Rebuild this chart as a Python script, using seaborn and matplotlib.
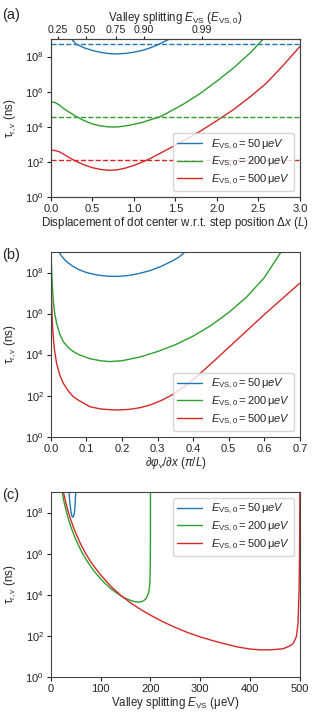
import numpy as np
import matplotlib
matplotlib.use('Agg')
import matplotlib.pyplot as plt
import seaborn as sns

# curve values are log10(tau / ns)

# (a) tau vs displacement of dot centre (units of L)
a_blue_x = [0.25, 0.3, 0.4, 0.5, 0.6, 0.7, 0.8, 0.9, 1.0, 1.1, 1.2, 1.3, 1.43]
a_blue_y = [9.0, 8.72, 8.5, 8.35, 8.24, 8.17, 8.15, 8.18, 8.25, 8.35, 8.5, 8.7, 9.0]
a_green_x = [0.0, 0.05, 0.1, 0.15, 0.2, 0.3, 0.4, 0.5, 0.6, 0.7, 0.8, 0.9, 1.0, 1.1, 1.2,
             1.33, 1.4, 1.6, 1.8, 2.0, 2.2, 2.4, 2.56]
a_green_y = [5.43, 5.38, 5.25, 5.05, 4.9, 4.6, 4.35, 4.16, 4.05, 3.99, 3.99, 4.05, 4.14, 4.25, 4.4,
             4.6, 4.78, 5.3, 5.9, 6.6, 7.35, 8.2, 9.0]
a_red_x = [0.0, 0.05, 0.1, 0.15, 0.2, 0.25, 0.3, 0.4, 0.5, 0.6, 0.7, 0.8, 0.9, 1.0, 1.1, 1.2,
           1.4, 1.6, 1.8, 2.0, 2.2, 2.4, 2.6, 2.8, 3.0]
a_red_y = [2.67, 2.65, 2.58, 2.45, 2.3, 2.17, 2.04, 1.83, 1.67, 1.57, 1.52, 1.55, 1.65, 1.8, 1.98, 2.2,
           2.7, 3.2, 3.75, 4.35, 4.98, 5.7, 6.5, 7.5, 8.57]
a_dashed_y = [8.73, 4.58, 2.12]   # blue, green, red reference levels
top_tick_pos = [0.088, 0.42, 0.78, 1.125, 1.815]
top_tick_labels = ['0.25', '0.50', '0.75', '0.90', '0.99']

# (b) tau vs valley phase gradient (pi/L)
b_blue_x = [0.023, 0.03, 0.04, 0.05, 0.063, 0.08, 0.1, 0.13, 0.16, 0.19, 0.22, 0.25, 0.28,
            0.31, 0.34, 0.36, 0.377]
b_blue_y = [9.0, 8.8, 8.6, 8.45, 8.29, 8.13, 8.0, 7.88, 7.82, 7.81, 7.86, 7.96, 8.1,
            8.3, 8.55, 8.75, 9.0]
b_green_x = [0.0, 0.002, 0.004, 0.0066, 0.01, 0.016, 0.025, 0.035, 0.05, 0.063, 0.08, 0.11,
             0.14, 0.165, 0.2, 0.25, 0.3, 0.35, 0.4, 0.45, 0.5, 0.55, 0.6, 0.647]
b_green_y = [9.0, 8.2, 7.4, 6.67, 6.1, 5.53, 5.0, 4.63, 4.32, 4.15, 3.99, 3.8,
             3.7, 3.66, 3.7, 3.88, 4.15, 4.48, 4.9, 5.42, 6.05, 6.8, 7.75, 9.0]
b_red_x = [0.0, 0.001, 0.002, 0.004, 0.0066, 0.01, 0.016, 0.025, 0.035, 0.05, 0.063, 0.08,
           0.11, 0.14, 0.17, 0.19, 0.22, 0.25, 0.28, 0.31, 0.34, 0.37, 0.4, 0.45, 0.5, 0.55,
           0.6, 0.65, 0.7]
b_red_y = [9.0, 7.5, 6.6, 5.6, 4.88, 4.25, 3.58, 3.0, 2.6, 2.2, 1.95, 1.75,
           1.46, 1.35, 1.31, 1.30, 1.33, 1.41, 1.55, 1.76, 2.03, 2.38, 2.78, 3.55, 4.35, 5.15,
           5.95, 6.72, 7.48]

# (c) tau vs valley splitting (ueV)
c_blue_x = [36.5, 38, 40, 42, 43.5, 45, 46.5, 47.5, 48.5, 49.2, 49.7, 50]
c_blue_y = [9.0, 8.5, 8.1, 7.85, 7.78, 7.8, 7.9, 8.05, 8.35, 8.7, 8.9, 9.0]
c_green_x = [23, 25, 28, 32, 36, 40, 45, 50, 60, 70, 80, 90, 100, 110, 120, 130, 140, 150,
             160, 165, 170, 175, 180, 185, 190, 193, 196, 198, 199, 199.6, 199.9, 200]
c_green_y = [9.0, 8.68, 8.35, 7.97, 7.63, 7.32, 6.99, 6.69, 6.17, 5.74, 5.37, 5.05, 4.77, 4.52,
             4.3, 4.12, 3.95, 3.82, 3.72, 3.68, 3.65, 3.64, 3.65, 3.69, 3.77, 3.9, 4.08, 4.35,
             4.7, 5.5, 6.5, 9.0]
c_red_x = [25, 28, 32, 36, 40, 45, 50, 60, 70, 80, 90, 100, 120, 140, 160, 180, 200, 225, 250,
           275, 300, 325, 350, 375, 400, 420, 440, 466, 480, 487, 493, 496.4, 498.4, 499.5, 500]
c_red_y = [9.0, 8.7, 8.3, 7.95, 7.65, 7.3, 7.0, 6.45, 6.0, 5.6, 5.27, 4.96, 4.42, 3.97, 3.6,
           3.28, 3.0, 2.68, 2.4, 2.15, 1.94, 1.76, 1.6, 1.45, 1.35, 1.31, 1.31, 1.36, 1.5,
           1.63, 1.95, 2.6, 4.2, 6.0, 9.0]

labels = [r'$E_{\mathrm{VS,0}} = 50\,\mathrm{\mu} eV$',
          r'$E_{\mathrm{VS,0}} = 200\,\mathrm{\mu} eV$',
          r'$E_{\mathrm{VS,0}} = 500\,\mathrm{\mu} eV$']
colors = ['#1f77b4', '#2ca02c', '#d62728']

sns.set_style('ticks')
plt.rcParams['font.family'] = ['Liberation Sans', 'DejaVu Sans']
plt.rcParams['mathtext.fontset'] = 'custom'
plt.rcParams['mathtext.rm'] = 'Liberation Sans'
plt.rcParams['mathtext.it'] = 'Liberation Sans:italic'
plt.rcParams['mathtext.bf'] = 'Liberation Sans:bold'
plt.rcParams['font.size'] = 8.3
plt.rcParams['axes.labelsize'] = 8.3
plt.rcParams['xtick.labelsize'] = 8.0
plt.rcParams['ytick.labelsize'] = 8.0
plt.rcParams['axes.edgecolor'] = '#444444'
plt.rcParams['axes.linewidth'] = 0.8
plt.rcParams['xtick.major.size'] = 3
plt.rcParams['ytick.major.size'] = 3
plt.rcParams['xtick.major.pad'] = 2
plt.rcParams['ytick.major.pad'] = 2
plt.rcParams['xtick.color'] = '#222222'
plt.rcParams['ytick.color'] = '#222222'

fig = plt.figure(figsize=(3.2, 7.2), dpi=100)
ax_a = fig.add_axes([0.159, 0.7264, 0.778, 0.2194])
ax_b = fig.add_axes([0.159, 0.3935, 0.778, 0.2565])
ax_c = fig.add_axes([0.159, 0.0601, 0.778, 0.2565])

yticks = [1e0, 1e2, 1e4, 1e6, 1e8]


def draw(ax, series):
    ax.set_yscale('log')
    for (xs, ys), col, lab in zip(series, colors, labels):
        sns.lineplot(x=xs, y=10.0 ** np.array(ys), ax=ax, color=col, lw=1.0,
                     label=lab, estimator=None, sort=False)
    ax.set_ylim(1, 1e9)
    ax.set_yticks(yticks)
    ax.yaxis.set_minor_locator(matplotlib.ticker.NullLocator())
    ax.set_ylabel(r'$\mathrm{\tau}_{\mathrm{r,v}}$ (ns)', labelpad=5)


def legend(ax, loc):
    ax.legend(loc=loc, fontsize=8.0, labelspacing=0.3, handlelength=2.2,
              borderpad=0.4, framealpha=0.8)


# (a)
draw(ax_a, [(a_blue_x, a_blue_y), (a_green_x, a_green_y), (a_red_x, a_red_y)])
for lv, col in zip(a_dashed_y, colors):
    ax_a.axhline(10.0 ** lv, color=col, ls='--', lw=1.0)
ax_a.set_xlim(0, 3)
ax_a.set_xlabel(r'Displacement of dot center w.r.t. step position $\Delta x$ ($L$)', labelpad=1)
legend(ax_a, 'lower right')
ax_top = ax_a.twiny()
ax_top.set_xlim(ax_a.get_xlim())
ax_top.set_xticks(top_tick_pos)
ax_top.set_xticklabels(top_tick_labels)
ax_top.tick_params(axis='x', length=2, pad=1, labelsize=7.6)
ax_top.set_xlabel(r'Valley splitting $E_{\mathrm{VS}}$ ($E_{\mathrm{VS,0}}$)', labelpad=3)

# (b)
draw(ax_b, [(b_blue_x, b_blue_y), (b_green_x, b_green_y), (b_red_x, b_red_y)])
ax_b.set_xlim(0, 0.7)
ax_b.set_xlabel(r'$\partial\varphi_{\mathrm{v}}/\partial x$ ($\pi/L$)', labelpad=1)
legend(ax_b, 'lower right')

# (c)
draw(ax_c, [(c_blue_x, c_blue_y), (c_green_x, c_green_y), (c_red_x, c_red_y)])
ax_c.set_xlim(0, 500)
ax_c.set_xlabel(r'Valley splitting $E_{\mathrm{VS}}$ ($\mathrm{\mu}$eV)', labelpad=1)
legend(ax_c, 'upper right')

for lab, ypix in zip(['(a)', '(b)', '(c)'], [15, 255, 495]):
    fig.text(0.008, 1 - ypix / 720, lab, fontsize=10.5, va='center', ha='left')

fig.savefig('out.png', dpi=100)
